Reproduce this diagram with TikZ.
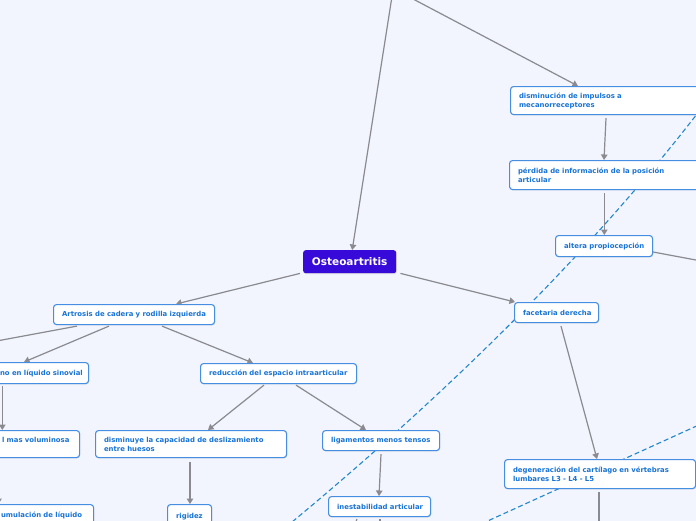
\documentclass[tikz,border=0pt]{standalone}
\usepackage{fontspec}
\newfontfamily\mmfont{DejaVu Sans}
\usetikzlibrary{arrows.meta,shadows,backgrounds,calc}
\definecolor{bgcol}{RGB}{242,245,253}
\definecolor{bordercol}{RGB}{70,142,226}
\definecolor{txtcol}{RGB}{24,115,214}
\definecolor{rootcol}{RGB}{56,10,218}
\definecolor{edgecol}{RGB}{138,138,144}
\definecolor{dashcol}{RGB}{35,135,205}
\tikzset{
  box/.style={draw=bordercol, fill=white, line width=1.1pt, rounded corners=3pt,
    text=txtcol, font=\mmfont\bfseries\fontsize{6.9}{9}\selectfont,
    inner xsep=8.5pt, inner ysep=1pt, anchor=north west, align=left,
    drop shadow={shadow xshift=0.6pt, shadow yshift=-0.9pt, fill=black!40, opacity=0.3}},
  rootbox/.style={fill=rootcol, rounded corners=2.5pt, text=white,
    font=\mmfont\bfseries\fontsize{10.5}{12}\selectfont,
    inner sep=0pt, anchor=north west, minimum width=93pt, minimum height=23pt,
    drop shadow={shadow xshift=0.6pt, shadow yshift=-0.9pt, fill=black!40, opacity=0.3}},
  arr/.style={draw=edgecol, line width=1.2pt, -{Triangle[width=6.5pt,length=5.5pt]}},
  plain/.style={draw=edgecol, line width=1.2pt},
  rel/.style={draw=dashcol, line width=1.1pt, dash pattern=on 5pt off 3pt}
}
\begin{document}
\begin{tikzpicture}[x=1pt,y=-1pt]
\useasboundingbox (0,0) rectangle (696,520);
\clip (0,0) rectangle (696,520);

% nodes
\node[rootbox] (osteo) at (303,250) {Osteoartritis};
\node[box, text width=144pt, minimum height=20pt] (artro) at (53,304) {\mbox{Artrosis de cadera y rodilla izquierda}};
\node[box, text width=67pt, minimum height=20pt] (facet) at (514,302) {\mbox{facetaria derecha}};
\node[box, text width=183pt, minimum height=28pt] (dismi) at (510,86) {\mbox{disminución de impulsos a}\\\mbox{mecanorreceptores}};
\node[box, text width=183pt, minimum height=29pt] (perd) at (509,160) {\mbox{pérdida de información de la posición}\\\mbox{articular}};
\node[box, text width=80pt, minimum height=21pt] (alter) at (555,235) {\mbox{altera propiocepción}};
\node[box, text width=80pt, minimum height=21pt] (sinov) at (-9,362) {\mbox{no en líquido sinovial}};
\node[box, text width=69pt, minimum height=27pt] (volum) at (-7,430) {\mbox{l mas voluminosa}\\\mbox{}};
\node[box, text width=84pt, minimum height=30pt] (acum) at (-8,504) {\mbox{umulación de líquido}\\\mbox{}};
\node[box, text width=139pt, minimum height=20pt] (reduc) at (200,363) {\mbox{reducción del espacio intraarticular}};
\node[box, text width=174pt, minimum height=27pt] (desliz) at (95,430) {\mbox{disminuye la capacidad de deslizamiento}\\\mbox{entre huesos}};
\node[box, text width=100pt, minimum height=20pt] (ligam) at (322,430) {\mbox{ligamentos menos tensos}};
\node[box, text width=27pt, minimum height=24pt] (rigid) at (167,504) {\mbox{rigidez}};
\node[box, text width=85pt, minimum height=20pt] (inest) at (328,496) {\mbox{inestabilidad articular}};
\node[box, text width=174pt, minimum height=29pt] (degen) at (504,459) {\mbox{degeneración del cartílago en vértebras}\\\mbox{lumbares L3 - L4 - L5}};

% free ends
\coordinate (top1) at (393,-10);
\coordinate (top2) at (396,-10);
\coordinate (offA) at (-25,345);
\coordinate (offR) at (712,263);
\coordinate (offI1) at (348,540);
\coordinate (offI2) at (380,540);
\coordinate (offD) at (599,540);
\coordinate (da1) at (710,97);
\coordinate (da2) at (280,532);
\coordinate (db1) at (712,419);
\coordinate (db2) at (470,529);

\begin{scope}[on background layer]
\fill[bgcol] (-30,-30) rectangle (730,560);
% relationship lines
\draw[rel] (da1) .. controls (592,253) and (440,400) .. (da2);
\draw[rel] (db1) -- (db2);
% connectors
\draw[arr] (top1) -- ($(osteo.north)+(2.5,0)$);
\draw[arr] (top2) -- ($(dismi.north west)+(68,0)$);
\draw[arr] ($(osteo.south west)+(-3,0)$) -- ($(artro.north west)+(123,0)$);
\draw[arr] ($(osteo.south east)+(4,0)$) -- ($(facet.north west)+(1,0)$);
\draw[plain] ($(artro.south west)+(24,1)$) -- (offA);
\draw[arr] ($(artro.south west)+(56,1)$) -- ($(sinov.north west)+(33,0)$);
\draw[arr] ($(artro.south west)+(109,1)$) -- ($(reduc.north west)+(53,0)$);
\draw[arr] ($(sinov.south west)+(11.3,2)$) -- ($(volum.north west)+(9.3,0)$);
\draw[arr] ($(volum.south west)+(5.5,2)$) -- ($(acum.north west)+(6.5,0)$);
\draw[arr] ($(reduc.south west)+(64,1)$) -- ($(desliz.north west)+(113,0)$);
\draw[arr] ($(reduc.south west)+(96,1)$) -- ($(ligam.north west)+(44,0)$);
\draw[arr] ($(desliz.south west)+(95,4)$) -- ($(rigid.north west)+(23,0)$);
\draw[arr] ($(ligam.south west)+(59,3)$) -- ($(inest.north west)+(51,0)$);
\draw[plain] ($(inest.south west)+(29,2)$) -- (offI1);
\draw[plain] ($(inest.south west)+(52,2)$) -- (offI2);
\draw[arr] ($(facet.south west)+(47,3)$) -- ($(degen.north west)+(93,0)$);
\draw[plain] ($(degen.south west)+(95,3)$) -- (offD);
\draw[arr] ($(dismi.south west)+(96,3)$) -- ($(perd.north west)+(95,0)$);
\draw[arr] ($(perd.south west)+(95.3,3)$) -- ($(alter.north west)+(49.3,0)$);
\draw[plain] ($(alter.north east)+(0,17)$) -- (offR);
\end{scope}
\end{tikzpicture}
\end{document}
